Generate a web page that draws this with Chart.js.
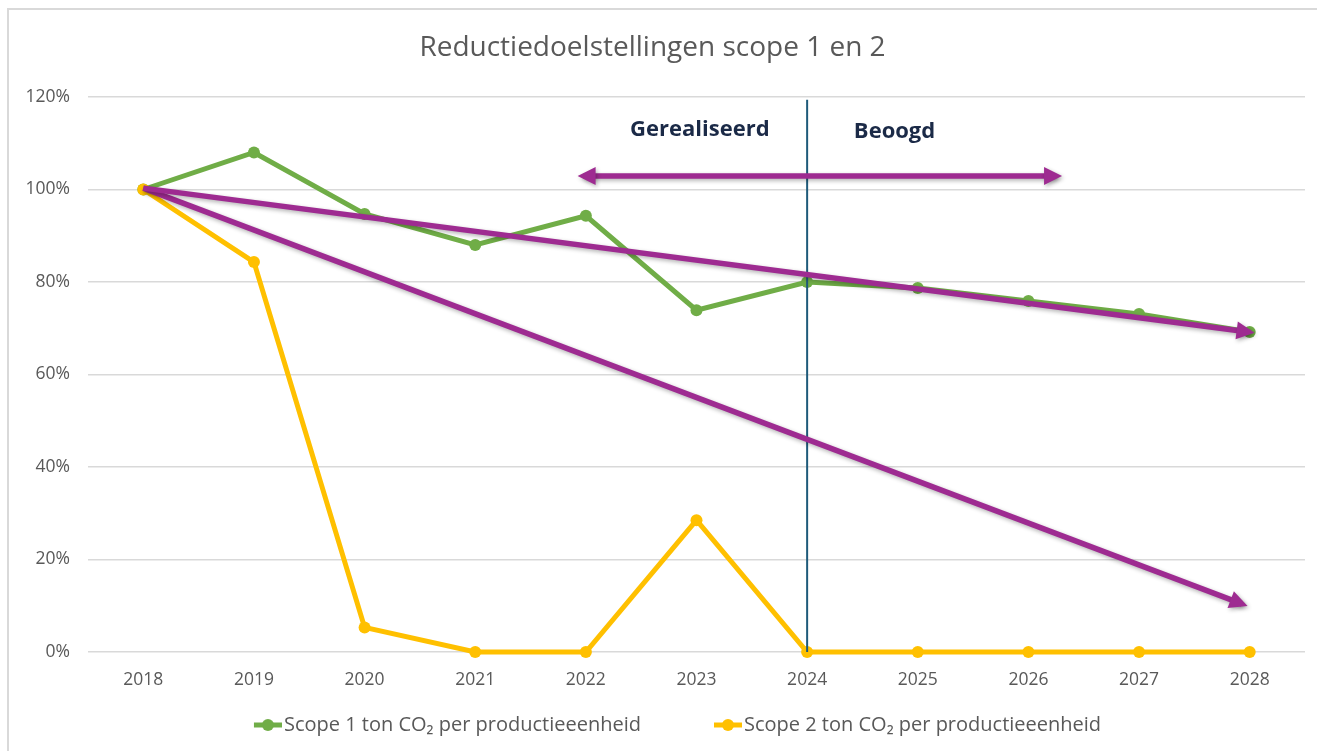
<!DOCTYPE html>
<html>
<head>
<meta charset="utf-8">
<script src="https://cdn.jsdelivr.net/npm/chart.js@4/dist/chart.umd.min.js"></script>
<style>
  html, body { margin: 0; padding: 0; background: #ffffff; }
  #wrap { position: relative; width: 1317px; height: 751px; overflow: hidden; }
  #frame { position: absolute; left: 7px; top: 8px; width: 1320px; height: 760px;
           border-top: 2px solid #d9d9d9; border-left: 2px solid #d9d9d9; }
  canvas { position: absolute; left: 0; top: 0; }
</style>
</head>
<body>
<div id="wrap">
  <div id="frame"></div>
  <canvas id="c" width="1317" height="751"></canvas>
</div>
<script>
// ---- Data ----
const years = [2018, 2019, 2020, 2021, 2022, 2023, 2024, 2025, 2026, 2027, 2028];
const scope1 = [100, 108, 94.7, 88, 94.3, 73.9, 80, 78.7, 75.9, 73.1, 69.2];
const scope2 = [100, 84.3, 5.3, 0, 0, 28.5, 0, 0, 0, 0, 0];
const yTicks = [0, 20, 40, 60, 80, 100, 120];
const seriesNames = ['Scope 1 ton CO\u2082 per productieeenheid', 'Scope 2 ton CO\u2082 per productieeenheid'];
const titleText = 'Reductiedoelstellingen scope 1 en 2';

// trend arrows (data coordinates)
const trendArrow1X = [2018, 2027.99];
const trendArrow1Y = [100.3, 69.2];
const trendArrow2X = [2018, 2027.93];
const trendArrow2Y = [100.3, 10.4];
const periodArrowX = [2021.98, 2026.25];
const periodArrowY = [102.9, 102.9];
const dividerX = [2024, 2024];
const dividerY = [0, 119.4];
const periodLabels = ['Gerealiseerd', 'Beoogd'];
const periodLabelX = [2023.03, 2024.79];
const periodLabelY = [112.9, 112.4];

// ---- Styles ----
const GREEN = '#70AD47', YELLOW = '#FFC000', PURPLE = '#9E2B91', DIVIDER = '#1E5A7A';
const TEXT = '#595959', NAVY = '#1B2A47', GRID = '#d9d9d9';
const FONT = "'Open Sans', 'DejaVu Sans', sans-serif";

const toXY = (xs, ys) => xs.map((x, i) => ({x: x, y: ys[i]}));

const LEGEND_BOX = 70;
function legendMarker(color) {
  const cv = document.createElement('canvas');
  cv.width = LEGEND_BOX + 16; cv.height = 14;
  const g = cv.getContext('2d');
  const x1 = cv.width, x0 = x1 - 28;
  g.strokeStyle = color; g.lineWidth = 5;
  g.beginPath(); g.moveTo(x0, 7); g.lineTo(x1, 7); g.stroke();
  g.fillStyle = color;
  g.beginPath(); g.arc((x0 + x1) / 2, 7, 6, 0, Math.PI * 2); g.fill();
  return cv;
}
const markers = [legendMarker(GREEN), legendMarker(YELLOW)];

const arrowPlugin = {
  id: 'arrows',
  beforeDatasetDraw(chart, args) {
    const ds = chart.data.datasets[args.index];
    if (ds.arrowEnds) {
      const ctx = chart.ctx;
      ctx.save();
      ctx.shadowColor = 'rgba(0,0,0,0.30)';
      ctx.shadowBlur = 4;
      ctx.shadowOffsetX = 1.5;
      ctx.shadowOffsetY = 2;
    }
  },
  afterDatasetDraw(chart, args) {
    const ds = chart.data.datasets[args.index];
    if (!ds.arrowEnds) return;
    const ctx = chart.ctx;
    const pts = args.meta.data;
    const head = (from, to) => {
      const dx = to.x - from.x, dy = to.y - from.y;
      const len = Math.hypot(dx, dy);
      const ux = dx / len, uy = dy / len;
      const tipX = to.x + ux * 6, tipY = to.y + uy * 6;
      const bx = to.x - ux * 12, by = to.y - uy * 12;
      const hw = 9;
      ctx.beginPath();
      ctx.moveTo(tipX, tipY);
      ctx.lineTo(bx - uy * hw, by + ux * hw);
      ctx.lineTo(bx + uy * hw, by - ux * hw);
      ctx.closePath();
      ctx.fillStyle = ds.borderColor;
      ctx.fill();
    };
    const a = pts[0], b = pts[pts.length - 1];
    if (ds.arrowEnds.includes('end')) head(a, b);
    if (ds.arrowEnds.includes('start')) head(b, a);
    ctx.restore();
  },
  afterDatasetsDraw(chart) {
    const ctx = chart.ctx, xs = chart.scales.x, ys = chart.scales.y;
    ctx.save();
    ctx.font = "bold 22px " + FONT;
    ctx.fillStyle = NAVY;
    ctx.textAlign = 'center';
    ctx.textBaseline = 'middle';
    periodLabels.forEach((t, i) => {
      ctx.fillText(t, xs.getPixelForValue(periodLabelX[i]), ys.getPixelForValue(periodLabelY[i]));
    });
    ctx.restore();
  }
};

new Chart(document.getElementById('c'), {
  type: 'line',
  data: {
    datasets: [
      { label: seriesNames[0], data: toXY(years, scope1), borderColor: GREEN, backgroundColor: GREEN,
        borderWidth: 5, pointRadius: 6, pointBorderWidth: 0, pointBackgroundColor: GREEN, order: 4, clip: false },
      { label: seriesNames[1], data: toXY(years, scope2), borderColor: YELLOW, backgroundColor: YELLOW,
        borderWidth: 5, pointRadius: 6, pointBorderWidth: 0, pointBackgroundColor: YELLOW, order: 3, clip: false },
      { label: 'divider', data: toXY(dividerX, dividerY), borderColor: DIVIDER, borderWidth: 2,
        pointRadius: 0, order: 2, clip: false },
      { label: 'trend1', data: toXY(trendArrow1X, trendArrow1Y), borderColor: PURPLE, borderWidth: 5.5,
        pointRadius: 0, arrowEnds: ['end'], order: 1, borderCapStyle: 'butt', clip: false },
      { label: 'trend2', data: toXY(trendArrow2X, trendArrow2Y), borderColor: PURPLE, borderWidth: 5.5,
        pointRadius: 0, arrowEnds: ['end'], order: 1, borderCapStyle: 'butt', clip: false },
      { label: 'period', data: toXY(periodArrowX, periodArrowY), borderColor: PURPLE, borderWidth: 5.5,
        pointRadius: 0, arrowEnds: ['start', 'end'], order: 0, borderCapStyle: 'butt', clip: false }
    ]
  },
  options: {
    responsive: false,
    devicePixelRatio: 1,
    animation: false,
    layout: { padding: { left: 0, right: 12, top: 0, bottom: 6 } },
    plugins: {
      tooltip: { enabled: false },
      title: {
        display: true, text: titleText, color: TEXT,
        font: { family: FONT, size: 28, weight: 'normal', lineHeight: 1.2 },
        padding: { top: 31.2, bottom: 32.2 }
      },
      legend: {
        display: true, position: 'bottom',
        labels: {
          color: TEXT, font: { family: FONT, size: 20 },
          usePointStyle: true, pointStyleWidth: LEGEND_BOX, padding: 23,
          sort: (a, b) => a.datasetIndex - b.datasetIndex,
          generateLabels: (chart) => Chart.defaults.plugins.legend.labels.generateLabels(chart)
            .filter(l => l.datasetIndex < 2)
            .map(l => Object.assign(l, { pointStyle: markers[l.datasetIndex] }))
        }
      }
    },
    scales: {
      x: {
        type: 'linear', min: 2017.5, max: 2028.5,
        afterBuildTicks: (axis) => { axis.ticks = years.map(v => ({ value: v })); },
        afterFit: (axis) => { axis.height = 40; },
        grid: { display: false, drawTicks: false },
        border: { display: false },
        ticks: { color: TEXT, font: { family: FONT, size: 17.5 }, padding: 18,
                 autoSkip: false, maxRotation: 0, callback: (v) => String(v) }
      },
      y: {
        min: 0, max: 120,
        afterBuildTicks: (axis) => { axis.ticks = yTicks.map(v => ({ value: v })); },
        afterFit: (axis) => { axis.width = 88; },
        grid: { color: GRID, lineWidth: 1.5, drawTicks: false },
        border: { display: false },
        ticks: { color: TEXT, font: { family: FONT, size: 17.5 }, padding: 18,
                 callback: (v) => v + '%' }
      }
    }
  },
  plugins: [arrowPlugin]
});
</script>
</body>
</html>
